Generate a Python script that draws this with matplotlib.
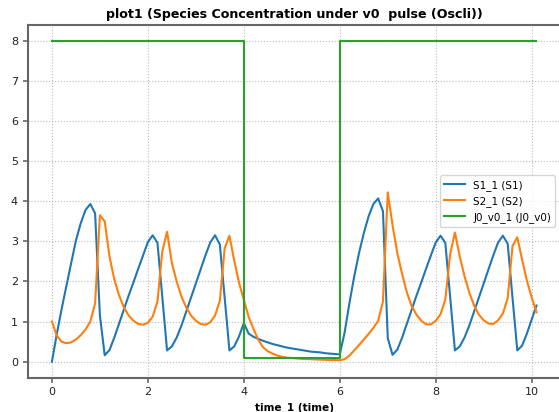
import numpy as np
import matplotlib
matplotlib.use("Agg")
import matplotlib.pyplot as plt

# time grid of the simulation output
time = np.linspace(0.0, 10.1, 102)

s1 = [0.00, 0.68, 1.30, 1.88, 2.45, 3.02, 3.45, 3.78, 3.93, 3.70,
      1.15, 0.16, 0.29, 0.60, 0.95, 1.30, 1.65, 1.98, 2.32, 2.65,
      2.98, 3.15, 2.96, 1.62, 0.28, 0.38, 0.60, 0.90, 1.25, 1.60,
      1.95, 2.30, 2.65, 2.97, 3.15, 2.92, 1.60, 0.28, 0.38, 0.63,
      0.96, 0.70, 0.62, 0.57, 0.52, 0.48, 0.44, 0.41, 0.38, 0.35,
      0.33, 0.31, 0.29, 0.27, 0.25, 0.24, 0.23, 0.21, 0.20, 0.19,
      0.18, 0.72, 1.45, 2.12, 2.70, 3.20, 3.62, 3.93, 4.07, 3.75,
      0.59, 0.17, 0.30, 0.60, 0.95, 1.30, 1.65, 1.98, 2.32, 2.65,
      2.97, 3.14, 2.96, 1.62, 0.28, 0.38, 0.60, 0.90, 1.25, 1.60,
      1.95, 2.30, 2.65, 2.97, 3.14, 2.94, 1.60, 0.28, 0.40, 0.70,
      1.05, 1.40]

s2 = [1.00, 0.65, 0.50, 0.46, 0.48, 0.55, 0.66, 0.80, 1.00, 1.45,
      3.65, 3.50, 2.62, 2.05, 1.65, 1.35, 1.15, 1.02, 0.94, 0.92,
      0.97, 1.12, 1.50, 2.75, 3.24, 2.46, 2.00, 1.62, 1.35, 1.15,
      1.02, 0.94, 0.92, 0.98, 1.15, 1.52, 2.82, 3.14, 2.52, 1.97,
      1.54, 1.12, 0.82, 0.55, 0.36, 0.26, 0.20, 0.15, 0.12, 0.10,
      0.09, 0.08, 0.07, 0.065, 0.06, 0.055, 0.05, 0.045, 0.04, 0.04,
      0.035, 0.06, 0.15, 0.28, 0.41, 0.55, 0.69, 0.84, 1.02, 1.50,
      4.22, 3.40, 2.70, 2.18, 1.72, 1.38, 1.17, 1.02, 0.93, 0.93,
      1.02, 1.18, 1.55, 2.68, 3.22, 2.63, 2.13, 1.72, 1.40, 1.17,
      1.03, 0.95, 0.94, 1.03, 1.20, 1.58, 2.88, 3.10, 2.55, 2.02,
      1.60, 1.23]

# pulse input (event points duplicated in time)
time_j0 = [0.0, 4.0, 4.0, 6.0, 6.0, 10.1]
j0 = [8.0, 8.0, 0.1, 0.1, 8.0, 8.0]

fig = plt.figure(figsize=(5.59, 4.12), dpi=100)
ax = fig.add_axes([27.7 / 559, 34.3 / 412, 533 / 559, 353 / 412])

ax.plot(time, s1, color="#1f77b4", lw=1.5, label="S1_1 (S1)")
ax.plot(time, s2, color="#ff7f0e", lw=1.5, label="S2_1 (S2)")
ax.plot(time_j0, j0, color="#2ca02c", lw=1.5, label="J0_v0_1 (J0_v0)")

ax.set_title("plot1 (Species Concentration under v0  pulse (Oscli))",
             fontsize=9.1, fontweight="bold", pad=5)
ax.set_xlabel("time_1 (time)", fontsize=7.6, fontweight="bold", labelpad=4)

ax.grid(True, linestyle=":", color="#bbbbbb", linewidth=0.8)
for side in ["left", "bottom", "top"]:
    ax.spines[side].set_color("#666666")
    ax.spines[side].set_linewidth(1.5)
ax.spines["right"].set_visible(False)
ax.tick_params(labelsize=8, colors="#666666", labelcolor="#222222", width=1.2, length=3.5)

ax.legend(loc="center right", fontsize=7.5)

fig.savefig("out.png", dpi=100)
